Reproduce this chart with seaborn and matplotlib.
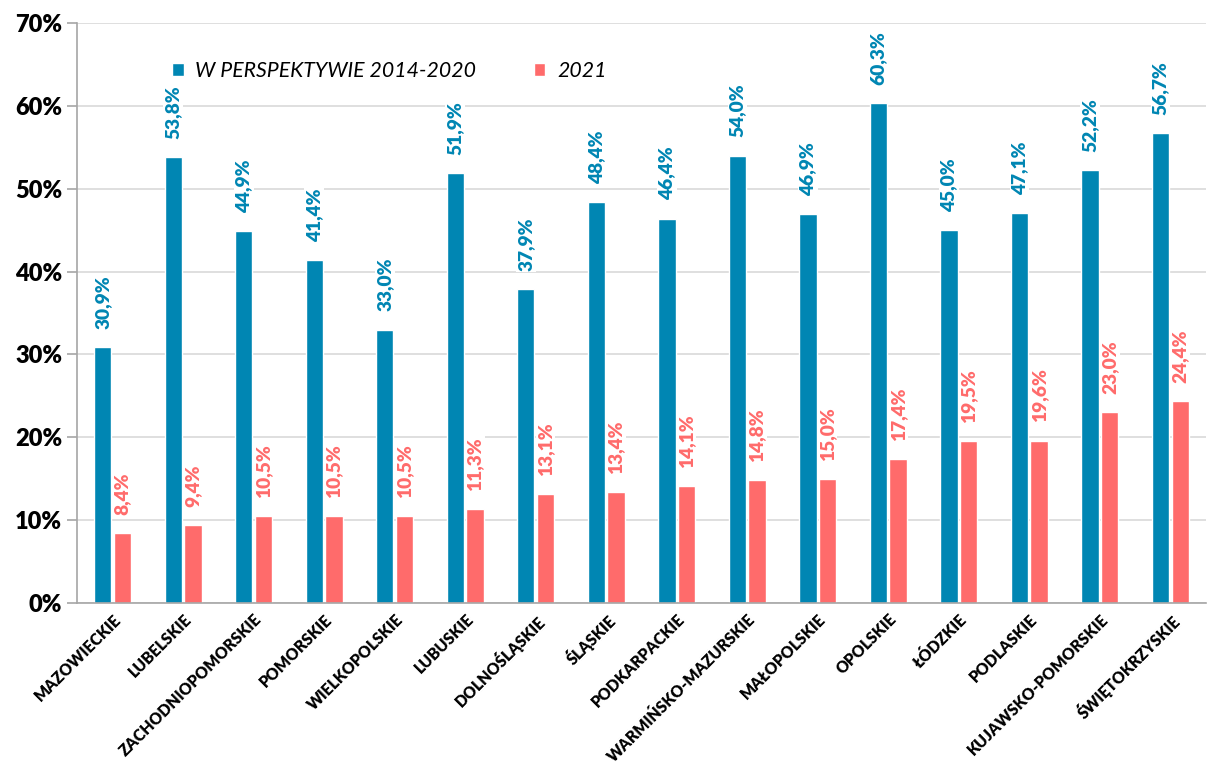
import pandas as pd
import matplotlib.pyplot as plt
import seaborn as sns

regions = ['MAZOWIECKIE', 'LUBELSKIE', 'ZACHODNIOPOMORSKIE', 'POMORSKIE', 'WIELKOPOLSKIE',
           'LUBUSKIE', 'DOLNOŚLĄSKIE', 'ŚLĄSKIE', 'PODKARPACKIE', 'WARMIŃSKO-MAZURSKIE',
           'MAŁOPOLSKIE', 'OPOLSKIE', 'ŁÓDZKIE', 'PODLASKIE', 'KUJAWSKO-POMORSKIE', 'ŚWIĘTOKRZYSKIE']
perspektywa = [30.9, 53.8, 44.9, 41.4, 33.0, 51.9, 37.9, 48.4, 46.4, 54.0, 46.9, 60.3, 45.0, 47.1, 52.2, 56.7]
rok_2021 = [8.4, 9.4, 10.5, 10.5, 10.5, 11.3, 13.1, 13.4, 14.1, 14.8, 15.0, 17.4, 19.5, 19.6, 23.0, 24.4]
series = ['W PERSPEKTYWIE 2014-2020', '2021']
colors = ['#0086B3', '#FF6B6B']

df = pd.DataFrame({
    'region': regions * 2,
    'value': perspektywa + rok_2021,
    'series': [series[0]] * len(regions) + [series[1]] * len(regions),
})

sns.set_style('white')
plt.rcParams['font.family'] = ['Lato', 'DejaVu Sans']
plt.rcParams['text.color'] = 'black'
plt.rcParams['xtick.labelcolor'] = 'black'
plt.rcParams['ytick.labelcolor'] = 'black'

fig = plt.figure(figsize=(12.08, 7.67), dpi=100)
ax = fig.add_axes([0.064, 0.214, 0.934, 0.756])

sns.barplot(data=df, x='region', y='value', hue='series', palette=colors,
            saturation=1, width=0.56, gap=0.12, ax=ax, zorder=2, legend=True)

# value labels, rotated, with white background
for cont, col in zip(ax.containers, colors):
    labels = [f'{v:.1f}%'.replace('.', ',') for v in cont.datavalues]
    ax.bar_label(cont, labels=labels, rotation=90, padding=13, color=col,
                 fontsize=13.8, fontweight='heavy', zorder=3,
                 bbox=dict(facecolor='white', edgecolor='none', pad=1.0))

ax.set_ylim(0, 70)
ax.set_xlim(-0.5, len(regions) - 0.5)
ax.set_yticks(range(0, 71, 10))
ax.set_yticklabels([f'{t}%' for t in range(0, 71, 10)], fontsize=17, fontweight='heavy')
ax.yaxis.grid(True, color='#D9D9D9', linewidth=1.2, zorder=0)
ax.set_axisbelow(True)

ax.set_xticks(range(len(regions)))
ax.set_xticklabels(regions, rotation=45, ha='right', rotation_mode='anchor',
                   fontsize=11.3, fontweight='heavy')
ax.set_xticks([i - 0.5 for i in range(len(regions) + 1)], minor=True)
ax.tick_params(axis='x', which='major', length=0, pad=6)
ax.tick_params(axis='x', which='minor', length=7, color='#A6A6A6', width=1.2)
ax.tick_params(axis='y', which='major', length=7, color='#A6A6A6', width=1.2, left=True, pad=4)

for s in ['top', 'right']:
    ax.spines[s].set_visible(False)
for s in ['left', 'bottom']:
    ax.spines[s].set_color('#A6A6A6')
    ax.spines[s].set_linewidth(1.2)

ax.set_xlabel('')
ax.set_ylabel('')

handles, lbls = ax.get_legend_handles_labels()
ax.legend(handles, lbls, loc='upper left', bbox_to_anchor=(0.067, 0.968), ncol=2,
          frameon=False, handlelength=0.55, handleheight=0.55, handletextpad=0.55,
          columnspacing=2.7, prop={'size': 15.3, 'style': 'italic'})

fig.savefig('out.png', dpi=100)
